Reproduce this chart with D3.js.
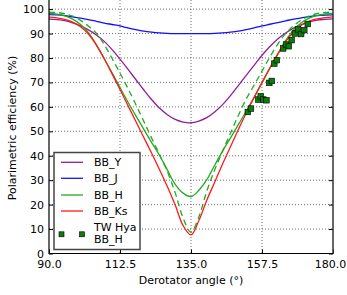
<!DOCTYPE html>
<html>
<head>
<meta charset="utf-8">
<script src="https://cdn.jsdelivr.net/npm/d3@7"></script>
<style>
  body { margin: 0; background: #fff; }
  text { font-family: "DejaVu Sans", sans-serif; }
</style>
</head>
<body>
<svg id="chart" width="347" height="295"></svg>
<script>
// derotator angles (deg) the curves were read at
var angles = [90, 92.5, 95, 97.5, 100, 102.5, 105, 107.5, 110, 112.5, 115, 117.5, 120, 122.5, 125, 127.5, 130, 132.5,
              135, 137.5, 140, 142.5, 145, 147.5, 150, 152.5, 155, 157.5, 160, 162.5, 165, 167.5, 170, 172.5, 175, 177.5, 180];

var bbY  = [95.9, 95.7, 95.3, 94.4, 93.2, 91.5, 89.4, 86.8, 83.4, 79.5, 75.4, 71.2, 67.0, 63.0, 59.5, 56.8, 54.9, 53.8,
            53.5, 54.2, 55.6, 57.9, 60.9, 64.6, 68.7, 72.9, 77.0, 81.1, 84.7, 87.8, 90.2, 92.2, 93.7, 94.8, 95.5, 95.8, 96.0];
var bbJ  = [97.7, 97.6, 97.3, 96.8, 96.3, 95.7, 95.0, 94.3, 93.7, 93.1, 92.3, 91.6, 91.0, 90.6, 90.3, 90.1, 90.0, 90.0,
            90.0, 90.0, 90.0, 90.1, 90.3, 90.6, 91.0, 91.6, 92.3, 93.1, 93.8, 94.5, 95.2, 95.9, 96.4, 96.9, 97.3, 97.5, 97.6];
var bbH  = [98.2, 97.9, 97.2, 95.9, 93.7, 90.4, 85.5, 79.8, 73.9, 67.9, 62.0, 56.4, 50.9, 45.5, 40.2, 34.2, 28.3, 24.7,
            23.3, 25.9, 30.2, 36.1, 41.9, 47.2, 52.7, 58.2, 63.9, 69.8, 75.8, 81.6, 87.1, 91.5, 94.4, 96.3, 97.4, 98.0, 98.2];
var bbKs = [96.7, 96.4, 95.8, 94.7, 92.8, 89.8, 85.3, 79.7, 73.5, 67.1, 60.6, 54.1, 47.6, 41.1, 34.4, 27.4, 19.8, 11.4,
            7.6, 13.5, 21.8, 29.2, 36.6, 43.7, 50.7, 57.5, 63.9, 70.0, 76.0, 81.6, 86.7, 90.6, 93.4, 95.1, 96.0, 96.5, 96.8];
// dashed green curve (not in the legend)
var fitH = [98.8, 98.6, 98.1, 97.1, 95.4, 93.0, 90.1, 85.5, 79.8, 73.8, 67.6, 61.0, 54.2, 47.3, 40.6, 33.5, 24.8, 14.5,
            8.7, 15.0, 25.5, 34.2, 41.8, 49.2, 56.5, 63.2, 68.9, 74.6, 80.4, 85.7, 90.0, 93.2, 95.5, 97.2, 98.2, 98.6, 98.8];

// TW Hya BB_H measurements
var twAngle = [153.0, 154.0, 156.3, 157.1, 157.9, 158.9, 159.8, 160.6, 161.4, 162.2,
               164.2, 165.1, 166.0, 166.9, 167.9, 168.9, 169.9, 170.9, 172.0];
var twEff   = [57.9, 59.3, 63.0, 64.3, 63.0, 62.7, 69.8, 70.6, 77.7, 79.1,
               83.9, 85.5, 84.8, 87.3, 90.0, 91.7, 89.8, 91.4, 93.9];

var xTicks = [90, 112.5, 135, 157.5, 180];
var yTicks = [0, 10, 20, 30, 40, 50, 60, 70, 80, 90, 100];

var series = [
  {name: "BB_Y",  vals: bbY,  color: "#8e1f96"},
  {name: "BB_J",  vals: bbJ,  color: "#1010ff"},
  {name: "BB_H",  vals: bbH,  color: "#22aa22"},
  {name: "BB_Ks", vals: bbKs, color: "#ff1a1a"}
];

var svg = d3.select("#chart");
var left = 49, right = 333, bottom = 253.5;

var x = d3.scaleLinear().domain([90, 180]).range([left, right]);
var y = d3.scaleLinear().domain([0, 100]).range([bottom, 9.1]);

svg.append("defs").append("clipPath").attr("id", "plot")
  .append("rect").attr("x", left).attr("y", 0).attr("width", right - left).attr("height", bottom);

// grid
var grid = svg.append("g").attr("stroke", "#000").attr("stroke-width", 0.7)
  .attr("stroke-dasharray", "1,2").attr("opacity", 0.8);
grid.selectAll(".gx").data(xTicks.slice(1, -1)).enter().append("line")
  .attr("x1", d => x(d)).attr("x2", d => x(d)).attr("y1", 0).attr("y2", bottom);
grid.selectAll(".gy").data(yTicks.slice(1)).enter().append("line")
  .attr("x1", left).attr("x2", right).attr("y1", d => y(d)).attr("y2", d => y(d));

var plot = svg.append("g").attr("clip-path", "url(#plot)");

var line = function(vals) {
  return d3.line().x((d, i) => x(angles[i])).y(d => y(d)).curve(d3.curveCatmullRom)(vals);
};

series.forEach(function(s) {
  plot.append("path").attr("d", line(s.vals)).attr("fill", "none")
    .attr("stroke", s.color).attr("stroke-width", 1.3);
});
plot.append("path").attr("d", line(fitH)).attr("fill", "none")
  .attr("stroke", "#22aa22").attr("stroke-width", 1.3).attr("stroke-dasharray", "6,4");

plot.selectAll(".pt").data(twAngle).enter().append("rect")
  .attr("x", (d, i) => x(d) - 2.8).attr("y", (d, i) => y(twEff[i]) - 2.8)
  .attr("width", 5.6).attr("height", 5.6)
  .attr("fill", "#0a7d0a").attr("stroke", "#000").attr("stroke-width", 0.6);

// axes
var xAxis = svg.append("g").attr("transform", "translate(0," + bottom + ")")
  .call(d3.axisBottom(x).tickValues(xTicks).tickFormat(d3.format(".1f")).tickSize(-4).tickPadding(7))
  .call(g => g.select(".domain").remove());
xAxis.selectAll("text").attr("font-size", 11).attr("fill", "#000")
  .attr("dx", d => d == 180 ? -3 : 0);
svg.append("g").attr("transform", "translate(" + left + ",0)")
  .call(d3.axisLeft(y).tickValues(yTicks).tickSize(-4).tickPadding(5))
  .call(g => g.select(".domain").remove())
  .selectAll("text").attr("font-size", 11).attr("fill", "#000");
svg.append("g").attr("transform", "translate(" + right + ",0)")
  .call(d3.axisRight(y).tickValues(yTicks).tickSize(-4).tickFormat(""))
  .call(g => g.select(".domain").remove());

// spines
svg.append("line").attr("x1", left).attr("x2", left).attr("y1", 0).attr("y2", bottom + 0.5)
  .attr("stroke", "#000").attr("stroke-width", 1.2);
svg.append("line").attr("x1", right).attr("x2", right).attr("y1", 0).attr("y2", bottom + 0.5)
  .attr("stroke", "#333").attr("stroke-width", 1.5);
svg.append("line").attr("x1", left).attr("x2", right).attr("y1", bottom).attr("y2", bottom)
  .attr("stroke", "#000").attr("stroke-width", 1.2);

// axis titles
svg.append("text").attr("x", 191).attr("y", 284).attr("text-anchor", "middle")
  .attr("font-size", 11).text("Derotator angle (°)");
svg.append("text").attr("transform", "translate(16,128) rotate(-90)").attr("text-anchor", "middle")
  .attr("font-size", 11).text("Polarimetric efficiency (%)");

// legend
var lg = svg.append("g");
lg.append("rect").attr("x", 54).attr("y", 152.5).attr("width", 86).attr("height", 97)
  .attr("fill", "#fff").attr("stroke", "#444").attr("stroke-width", 1.5);
var rowY = [162.3, 178.3, 195, 211];
series.forEach(function(s, i) {
  lg.append("line").attr("x1", 61).attr("x2", 83).attr("y1", rowY[i]).attr("y2", rowY[i])
    .attr("stroke", s.color).attr("stroke-width", 1.3);
  lg.append("text").attr("x", 94).attr("y", rowY[i]).attr("dy", "0.36em")
    .attr("font-size", 11).text(s.name);
});
[61.5, 82].forEach(function(mx) {
  lg.append("rect").attr("x", mx - 2.5).attr("y", 234.3 - 2.5).attr("width", 5).attr("height", 5)
    .attr("fill", "#0a7d0a").attr("stroke", "#000").attr("stroke-width", 0.6);
});
lg.append("text").attr("x", 94).attr("y", 226.7).attr("dy", "0.36em").attr("font-size", 11).text("TW Hya");
lg.append("text").attr("x", 94).attr("y", 239).attr("dy", "0.36em").attr("font-size", 11).text("BB_H");
</script>
</body>
</html>
